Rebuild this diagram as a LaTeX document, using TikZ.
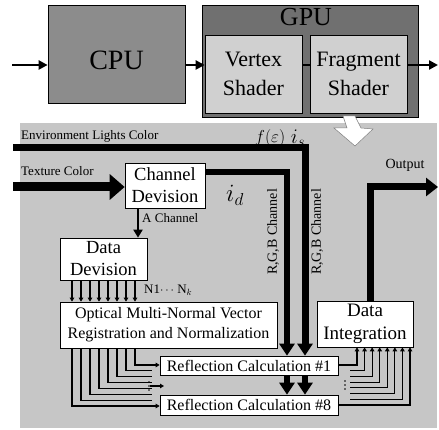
\documentclass[tikz,border=0pt]{standalone}
\usepackage{fontspec}
\setmainfont{Liberation Serif}
\usetikzlibrary{arrows.meta,positioning}
\definecolor{cpugray}{RGB}{140,140,140}
\definecolor{gpugray}{RGB}{112,112,112}
\definecolor{shadergray}{RGB}{208,208,208}
\definecolor{panelgray}{RGB}{198,198,198}
\newcommand{\fsz}[2]{\fontsize{#1}{#2}\selectfont}

\begin{document}
\begin{tikzpicture}[x=1pt,y=-1pt,
    box/.style={draw, line width=0.7pt, inner sep=0pt, align=center},
    wbox/.style={box, fill=white},
    bus/.style={line width=#1},
    tick/.style={line width=1.2pt},
    tip/.style={-{Triangle[length=4pt,width=4.5pt]}},
    lbl/.style={inner sep=1pt, font=\fsz{13}{15}}]
  \useasboundingbox (0,0) rectangle (439,430);

  % host and graphics card
  \node[box, fill=cpugray, minimum width=137pt, minimum height=98pt] (cpu) at (116.5,54) {};
  \node[font=\fsz{28}{30}] (cputxt) at (116.5,60) {CPU};
  \node[box, fill=gpugray, minimum width=216pt, minimum height=112pt] (gpu) at (310,61) {};
  \node[font=\fsz{26}{28}] (gputxt) at (306,17) {GPU};
  \node[box, fill=shadergray, minimum width=97pt, minimum height=78pt, font=\fsz{22}{29}] (vtx) at (253.5,74) {Vertex\\Shader};
  \node[box, fill=shadergray, minimum width=97pt, minimum height=78pt, font=\fsz{22}{29}] (frag) at (358.5,74) {Fragment\\Shader};
  \coordinate (cin) at (12,65);
  \coordinate (cout) at (438,65);
  \draw[bus=2.4pt, -{Triangle[length=9pt,width=9pt]}] (cin) -- (cin -| cpu.west);
  \draw[bus=2.4pt, -{Triangle[length=9pt,width=9pt]}] (cpu.east |- cin) -- (vtx.west |- cin);
  \draw[bus=2.4pt] (vtx.east |- cin) -- (frag.west |- cin);
  \draw[bus=2.4pt, -{Triangle[length=9pt,width=9pt]}] (frag.east |- cin) -- (cout);

  % fragment shader detail
  \fill[panelgray] (20,123) rectangle (437,428);
  \filldraw[fill=white, draw=gray, line width=0.5pt] (343,116) -- (355,116) -- (361,128) -- (373,129) -- (355,146) -- (334,128) -- (347,128) -- cycle;

  \node[lbl, anchor=west] (envlbl) at (20,136) {Environment Lights Color};
  \node[lbl, anchor=west] (texlbl) at (20,171) {Texture Color};
  \node[font=\fsz{17}{19}] (fe) at (270,138) {$f(\varepsilon)$};
  \node[font=\fsz{21}{23}] (is) at (298,138) {$i_s$};

  \node[wbox, minimum width=80pt, minimum height=45pt, font=\fsz{18.5}{22}] (chan) at (165,185.5) {Channel\\Devision};
  \node[font=\fsz{27}{29}] (id) at (235,195) {$i_d$};
  \node[wbox, minimum width=87pt, minimum height=42pt, font=\fsz{18.5}{22}] (ddiv) at (103.5,259) {Data\\Devision};
  \node[wbox, minimum width=217pt, minimum height=46pt, font=\fsz{16}{20}] (opt) at (168.5,325) {Optical Multi-Normal Vector\\Registration and Normalization};
  \node[wbox, minimum width=96pt, minimum height=46pt, font=\fsz{19}{23}] (dint) at (365,324) {Data\\Integration};
  \node[wbox, minimum width=178pt, minimum height=19pt, font=\fsz{16}{18}] (refa) at (249,365.5) {Reflection Calculation \#1};
  \node[wbox, minimum width=178pt, minimum height=20pt, font=\fsz{16}{18}] (refb) at (249,405) {Reflection Calculation \#8};

  % colour inputs
  \coordinate (envin) at (13,148);
  \coordinate (rgbb) at (305,148);
  \coordinate (rgba) at (287,172);
  \draw[bus=9pt, -{Triangle[length=15pt,width=25pt]}] (13,187) coordinate (texin) -- (texin -| chan.west);
  \draw[bus=7pt, line join=miter, -{Triangle[length=12pt,width=15pt]}] (envin) -| (rgbb |- refa.north);
  \draw[bus=5.5pt, -{Triangle[length=12pt,width=15pt]}] (rgbb |- refa.south) -- (rgbb |- refb.north);
  \draw[bus=6pt, line join=miter, -{Triangle[length=12pt,width=15pt]}] (chan.east |- rgba) -| (rgba |- refa.north);
  \draw[bus=5.5pt, -{Triangle[length=12pt,width=15pt]}] (rgba |- refa.south) -- (rgba |- refb.north);
  \node[lbl, font=\fsz{14}{16}, rotate=90] (rgbalbl) at (273,232) {R,G,B Channel};
  \node[lbl, font=\fsz{14}{16}, rotate=90] (rgbblbl) at (317,232) {R,G,B Channel};

  \coordinate (achan) at (138,0);
  \draw[bus=2pt, -{Triangle[length=8pt,width=9pt]}] (chan.south -| achan) -- (ddiv.north -| achan);
  \node[lbl, anchor=west] (achanlbl) at (141,218) {A Channel};

  % normal vectors
  \node[lbl, anchor=west] (nlbl) at (143,290) {N1$\cdots$ N$_k$};
  \foreach \i in {0,...,7} {
    \pgfmathsetmacro{\xx}{72+9*\i}
    \pgfmathsetmacro{\yy}{406-5.86*\i}
    \path (\xx,0) coordinate (nx);
    \draw[tick, tip] (ddiv.south -| nx) -- (opt.north -| nx);
    \draw[tick] (opt.south -| nx) |- (152,\yy) coordinate (lb\i);
  }
  \draw[tick, tip] (lb7) -- (refa.west |- lb7);
  \draw[tick, tip] (lb0) -- (refb.west |- lb0);
  \coordinate (ldots) at (150,386);
  \foreach \d in {-4,0,4} \fill (149,386+\d) circle (0.8pt);
  \draw[tick, tip] (ldots) -- ++(14,0);

  % results
  \foreach \i in {0,...,7} {
    \pgfmathsetmacro{\xx}{357+7.57*\i}
    \pgfmathsetmacro{\yy}{365+5.7*\i}
    \path (\xx,0) coordinate (rx);
    \draw[tick, tip] (350,\yy) coordinate (rb\i) -| (dint.south -| rx);
  }
  \draw[tick] (refa.east |- rb0) -- (rb0);
  \draw[tick] (refb.east |- rb7) -- (rb7);
  \foreach \d in {-4,0,4} \fill (345,385+\d) circle (0.8pt);

  \coordinate (outp) at (438,187);
  \draw[bus=7pt, line join=miter, -{Triangle[length=12pt,width=18pt]}] (dint.north -| 370,0) |- (outp);
  \node[lbl, font=\fsz{14}{16}] (outlbl) at (405,165) {Output};
\end{tikzpicture}
\end{document}
